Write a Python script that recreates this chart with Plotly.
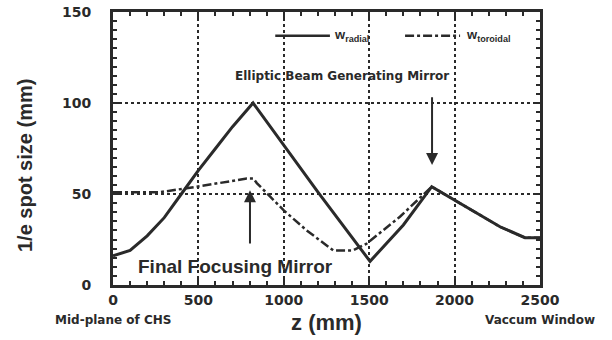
import plotly.graph_objects as go

# Data
z_radial = [0, 100, 200, 300, 400, 500, 600, 700, 820, 1000, 1200, 1505, 1700, 1866, 1992, 2266, 2412, 2500]
w_radial = [16, 19, 27, 37, 50, 63, 75, 87, 100, 77, 51, 13, 33, 54, 47, 32, 26, 26]

z_toroidal = [0, 275, 490, 783, 822, 842, 1000, 1134, 1290, 1405, 1483, 1680, 1866, 1992, 2266, 2412, 2500]
w_toroidal = [51, 51, 54, 58.5, 58.5, 56, 41, 30, 19, 19, 22.6, 37.5, 54, 47, 32, 26, 26]

x_ticks = [0, 500, 1000, 1500, 2000, 2500]
y_ticks = [0, 50, 100, 150]

INK = "#2a2a2a"
FONT = "Liberation Sans"
WIDE = "DejaVu Sans"

fig = go.Figure()
fig.add_trace(go.Scatter(x=z_radial, y=w_radial, mode="lines",
                         line=dict(color=INK, width=3), showlegend=False))
fig.add_trace(go.Scatter(x=z_toroidal, y=w_toroidal, mode="lines",
                         line=dict(color=INK, width=2.5, dash="dashdot"), showlegend=False))

# legend samples (drawn in data space)
fig.add_trace(go.Scatter(x=[950, 1270], y=[137, 137], mode="lines",
                         line=dict(color=INK, width=2.5), showlegend=False, hoverinfo="skip"))
fig.add_trace(go.Scatter(x=[1710, 2032], y=[137, 137], mode="lines",
                         line=dict(color=INK, width=2.5, dash="dashdot"), showlegend=False, hoverinfo="skip"))

axis_common = dict(
    showline=True, linewidth=3, linecolor=INK, mirror="ticks",
    ticks="inside", ticklen=6, tickwidth=2, tickcolor=INK,
    showgrid=True, gridcolor=INK, griddash="dot", gridwidth=2,
    zeroline=False, automargin=False, ticklabeloverflow="allow",
    tickfont=dict(family=WIDE, size=14, color=INK, weight=700),
)

fig.update_xaxes(range=[0, 2500], tickvals=x_ticks, **axis_common,
                 minor=dict(dtick=100, ticks="inside", ticklen=4, tickcolor=INK, showgrid=False),
                 title=dict(text="z (mm)", font=dict(family=FONT, size=22, color=INK, weight=700), standoff=8))
fig.update_yaxes(range=[0, 150], tickvals=y_ticks, **axis_common, ticklabelstandoff=16,
                 minor=dict(dtick=5, ticks="inside", ticklen=4, tickcolor=INK, showgrid=False))

# y-axis title (placed below the axis centre, as in the reference)
fig.add_annotation(x=-0.206, y=0.436, xref="paper", yref="paper", text="1/e spot size (mm)",
                   textangle=-90, showarrow=False, xanchor="center", yanchor="middle",
                   font=dict(family=FONT, size=20, color=INK, weight=700))

fig.add_annotation(x=1285, y=137, text="w<sub>radial</sub>", showarrow=False, xanchor="left",
                   font=dict(family=FONT, size=13, color=INK, weight=700))
fig.add_annotation(x=2055, y=137, text="w<sub>toroidal</sub>", showarrow=False, xanchor="left",
                   font=dict(family=FONT, size=13, color=INK, weight=700))

fig.add_annotation(x=1341, y=115, text="Elliptic Beam Generating Mirror", showarrow=False,
                   font=dict(family=WIDE, size=12, color=INK, weight=700))
fig.add_annotation(x=1868, y=66, ax=1868, ay=104, axref="x", ayref="y", text="", showarrow=True,
                   arrowhead=2, arrowsize=1.2, arrowwidth=2, arrowcolor=INK)
fig.add_annotation(x=720, y=10, text="Final Focusing Mirror", showarrow=False,
                   font=dict(family=FONT, size=19, color=INK, weight=700))
fig.add_annotation(x=802, y=52, ax=802, ay=22, axref="x", ayref="y", text="", showarrow=True,
                   arrowhead=2, arrowsize=1.2, arrowwidth=2, arrowcolor=INK)

fig.add_annotation(x=0.0, y=-0.13, xref="paper", yref="paper", text="Mid-plane of CHS", showarrow=False,
                   xanchor="center", yanchor="middle", font=dict(family=WIDE, size=12, color=INK, weight=700))
fig.add_annotation(x=1.0, y=-0.13, xref="paper", yref="paper", text="Vaccum Window", showarrow=False,
                   xanchor="center", yanchor="middle", font=dict(family=WIDE, size=12, color=INK, weight=700))

fig.update_layout(width=612, height=340, margin=dict(l=113, r=72, t=12, b=55),
                  plot_bgcolor="white", paper_bgcolor="white")

# remove the default page margin so the figure fills the window exactly
fig.write_html("out.html", config={"displayModeBar": False},
               post_script="document.body.style.margin='0';")
